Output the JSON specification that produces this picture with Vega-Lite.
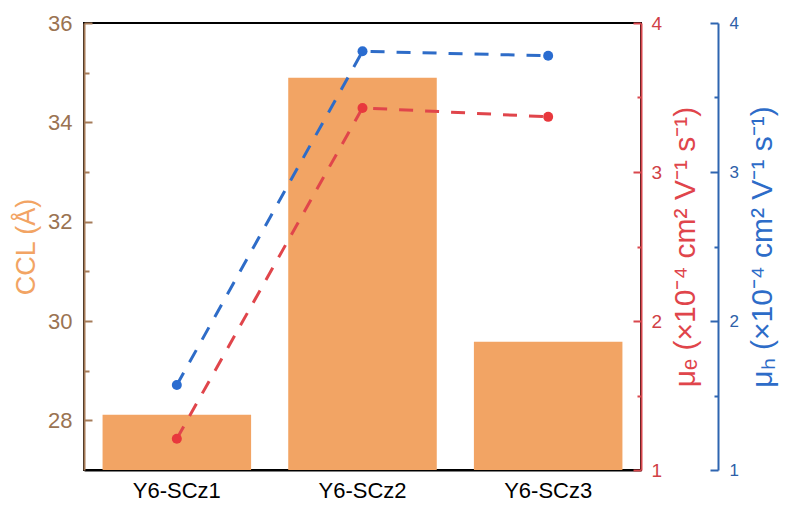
{
  "$schema": "https://vega.github.io/schema/vega-lite/v6.json",
  "width": 557,
  "height": 447,
  "autosize": {"type": "none"},
  "padding": {"left": 84, "top": 23, "right": 146, "bottom": 37},
  "background": "white",
  "config": {
    "view": {"stroke": "black", "strokeWidth": 2},
    "font": "Liberation Sans",
    "axis": {"labelFont": "Liberation Sans", "titleFont": "Liberation Sans", "titleFontWeight": "normal", "grid": false, "zindex": 1}
  },
  "data": {
    "values": [
      {"sample": "Y6-SCz1", "CCL": 28.11, "mu_e": 1.21, "mu_h": 1.57},
      {"sample": "Y6-SCz2", "CCL": 34.90, "mu_e": 3.43, "mu_h": 3.81},
      {"sample": "Y6-SCz3", "CCL": 29.58, "mu_e": 3.37, "mu_h": 3.78}
    ]
  },
  "encoding": {
    "x": {
      "field": "sample", "type": "nominal", "sort": null,
      "scale": {"paddingInner": 0.2, "paddingOuter": 0.1},
      "axis": {"title": null, "labelAngle": 0, "ticks": false, "tickSize": 0, "labelPadding": 10, "labelFontSize": 22, "labelColor": "black", "domainColor": "black", "domainWidth": 2}
    }
  },
  "layer": [
    {
      "mark": {"type": "bar", "color": "#F2A464", "clip": true},
      "encoding": {
        "y": {
          "field": "CCL", "type": "quantitative",
          "scale": {"domain": [27, 36], "zero": false, "nice": false},
          "axis": {
            "orient": "left", "title": "CCL (Å)", "titleFontSize": 27, "titleColor": "#F2A464", "titlePadding": 7,
            "values": [28, 29, 30, 31, 32, 33, 34, 35, 36],
            "format": ".0f",
            "labelExpr": "datum.value % 2 === 0 ? datum.label : ''",
            "labelFontSize": 22, "labelColor": "#9A7352", "labelPadding": 20,
            "domainColor": "#A57B58", "domainWidth": 2, "tickColor": "#A57B58", "tickWidth": 2,
            "tickSize": {"condition": {"test": "datum.value % 2 === 0", "value": -8}, "value": -5}
          }
        }
      }
    },
    {
      "mark": {"type": "line", "color": "#E0454B", "strokeWidth": 3, "strokeDash": [14, 12], "point": {"filled": true, "size": 100, "color": "#E8383D"}},
      "encoding": {
        "y": {
          "field": "mu_e", "type": "quantitative",
          "scale": {"domain": [1, 4], "zero": false, "nice": false},
          "axis": {
            "orient": "right", "offset": 0,
            "title": "μₑ (×10⁻⁴ cm² V⁻¹ s⁻¹)", "titleFontSize": 30, "titleColor": "#E0454B", "titleAngle": 270, "titleBaseline": "top", "titlePadding": 9,
            "values": [1, 1.5, 2, 2.5, 3, 3.5, 4],
            "format": ".0f",
            "labelExpr": "datum.value % 1 === 0 ? datum.label : ''",
            "labelFontSize": 19, "labelColor": "#D04046", "labelPadding": 18,
            "domainColor": "#D8474D", "domainWidth": 2, "tickColor": "#D8474D", "tickWidth": 2,
            "tickSize": {"condition": {"test": "datum.value % 1 === 0", "value": -8}, "value": -4}
          }
        }
      }
    },
    {
      "mark": {"type": "line", "color": "#2E6CC8", "strokeWidth": 3, "strokeDash": [14, 12], "point": {"filled": true, "size": 100, "color": "#2A6CD0"}},
      "encoding": {
        "y": {
          "field": "mu_h", "type": "quantitative",
          "scale": {"domain": [1, 4], "zero": false, "nice": false},
          "axis": {
            "orient": "right", "offset": 77,
            "title": "μₕ (×10⁻⁴ cm² V⁻¹ s⁻¹)", "titleFontSize": 30, "titleColor": "#2D6CC8", "titleAngle": 270, "titleBaseline": "top", "titlePadding": 9,
            "values": [1, 1.5, 2, 2.5, 3, 3.5, 4],
            "format": ".0f",
            "labelExpr": "datum.value % 1 === 0 ? datum.label : ''",
            "labelFontSize": 17, "labelColor": "#2E5FA8", "labelPadding": 19,
            "domainColor": "#2E65B0", "domainWidth": 2, "tickColor": "#2E65B0", "tickWidth": 2,
            "tickSize": {"condition": {"test": "datum.value % 1 === 0", "value": -8}, "value": -4}
          }
        }
      }
    }
  ],
  "resolve": {"scale": {"y": "independent"}}
}
